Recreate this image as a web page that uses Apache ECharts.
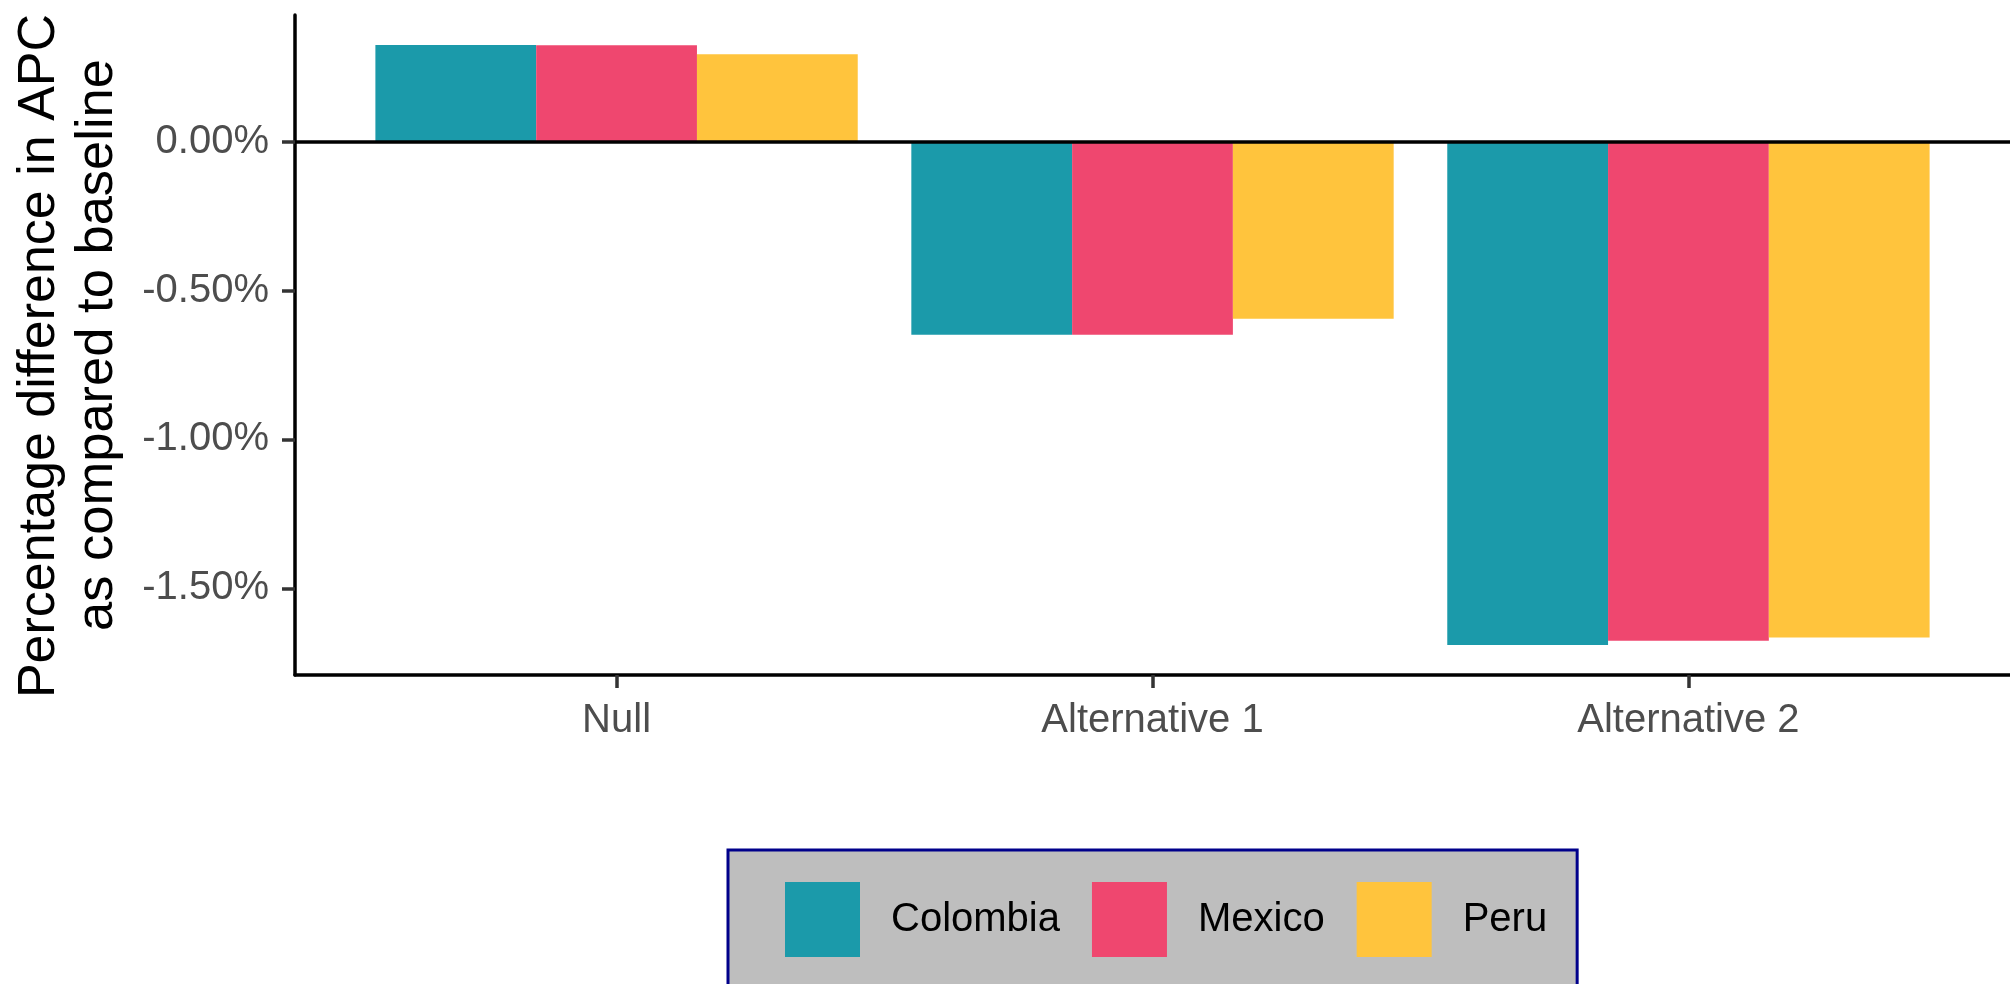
<!DOCTYPE html>
<html>
<head>
<meta charset="utf-8">
<script src="https://cdn.jsdelivr.net/npm/echarts@6/dist/echarts.min.js"></script>
<style>
html,body{margin:0;padding:0;background:#fff;}
#chart{width:2010px;height:984px;}
</style>
</head>
<body>
<div id="chart"></div>
<script>
// ---- data ----
const categories = ['Null', 'Alternative 1', 'Alternative 2'];
const seriesNames = ['Colombia', 'Mexico', 'Peru'];
const colombia = [0.324, -0.649, -1.690];
const mexico = [0.323, -0.649, -1.676];
const peru = [0.293, -0.595, -1.665];
const yTicks = [-1.5, -1.0, -0.5, 0];
const yTitleLines = ['Percentage difference in APC', 'as compared to baseline'];
const colors = ['#1B9AAA', '#EF476F', '#FFC43D'];

const allVals = colombia.concat(mexico, peru, [0]);
const dMin = Math.min.apply(null, allVals);
const dMax = Math.max.apply(null, allVals);
const span = dMax - dMin;
const yMin = dMin - 0.05 * span;
const yMax = dMax + 0.05 * span;
const catPos = categories.map((c, i) => i + 1);

const FONT = "'Liberation Sans', Arial, sans-serif";

function toPairs(arr) { return arr.map((v, i) => [catPos[i], v]); }

const seriesData = [colombia, mexico, peru];
const series = seriesData.map((arr, k) => {
  const s = {
    name: seriesNames[k],
    type: 'bar',
    data: toPairs(arr),
    barGap: '0%',
    barCategoryGap: '10%',
    itemStyle: { color: colors[k] },
    emphasis: { disabled: true },
    animation: false
  };
  if (k === seriesData.length - 1) {
    s.markLine = {
      silent: true,
      symbol: ['none', 'none'],
      label: { show: false },
      lineStyle: { color: '#000', width: 3.5, type: 'solid' },
      data: [{ yAxis: 0 }],
      animation: false
    };
  }
  return s;
});

const titleTok = { color: '#000', fontFamily: FONT, fontSize: 52, lineHeight: 58 };

const chart = echarts.init(document.getElementById('chart'), null, { renderer: 'canvas' });
chart.setOption({
  backgroundColor: '#ffffff',
  animation: false,
  grid: {
    left: 295, right: 0, top: 15, bottom: 309,
    containLabel: false,
    outerBoundsMode: 'none'
  },
  xAxis: {
    type: 'value',
    min: catPos[0] - 0.6,
    max: catPos[catPos.length - 1] + 0.6,
    splitLine: { show: false },
    axisLine: { show: true, onZero: false, lineStyle: { color: '#000', width: 3.5 } },
    axisTick: { show: true, customValues: catPos, length: 13, lineStyle: { color: '#333333', width: 3.5 } },
    axisLabel: {
      show: true,
      customValues: catPos,
      formatter: v => categories[Math.round(v) - 1] || '',
      color: '#4d4d4d',
      fontFamily: FONT,
      fontSize: 40,
      lineHeight: 40,
      margin: 26
    }
  },
  yAxis: {
    type: 'value',
    min: yMin,
    max: yMax,
    splitLine: { show: false },
    axisLine: { show: true, onZero: false, lineStyle: { color: '#000', width: 3.5 } },
    axisTick: { show: true, customValues: yTicks, length: 13, lineStyle: { color: '#333333', width: 3.5 } },
    axisLabel: {
      show: true,
      customValues: yTicks,
      formatter: v => v.toFixed(2) + '%',
      color: '#4d4d4d',
      fontFamily: FONT,
      fontSize: 40,
      margin: 26
    },
    name: '{a|' + yTitleLines[0] + '}\n{b|' + yTitleLines[1] + '}',
    nameLocation: 'middle',
    nameRotate: 90,
    nameGap: 168,
    nameTextStyle: {
      color: '#000',
      fontFamily: FONT,
      fontSize: 52,
      lineHeight: 58,
      rich: {
        a: Object.assign({ padding: [0, 22, 0, 0] }, titleTok),
        b: Object.assign({}, titleTok, { fontSize: 52.5 })
      }
    }
  },
  legend: {
    show: true,
    data: seriesNames,
    orient: 'horizontal',
    left: 728,
    top: 850,
    padding: [32, 30, 40, 57],
    itemWidth: 75,
    itemHeight: 75,
    itemGap: 32,
    icon: 'rect',
    selectedMode: false,
    backgroundColor: '#bebebe',
    borderColor: '#00008b',
    borderWidth: 3,
    borderRadius: 0,
    textStyle: {
      color: '#000',
      fontFamily: FONT,
      fontSize: 40,
      padding: [0, 0, 0, 26]
    }
  },
  series: series
});
</script>
</body>
</html>
